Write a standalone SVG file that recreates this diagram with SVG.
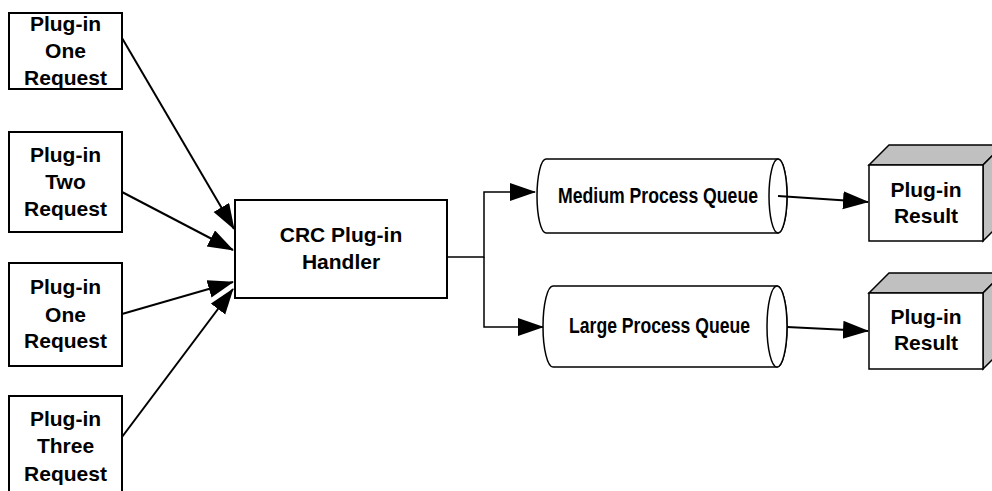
<svg xmlns="http://www.w3.org/2000/svg" width="992" height="491" viewBox="0 0 992 491">
<style>
.box{fill:#fff;stroke:#000;stroke-width:2}
.q{fill:#fff;stroke:#000;stroke-width:1.5}
.side{fill:#c0c0c0;stroke:#000;stroke-width:1.5}
.t{font-family:"Liberation Sans",Arial,sans-serif;font-weight:bold;font-size:21px;text-anchor:middle;fill:#000}
.qt{font-family:"Liberation Sans",Arial,sans-serif;font-weight:bold;font-size:22px;text-anchor:middle;fill:#000}
.c{fill:none;stroke:#000;stroke-width:2}
.c2{fill:none;stroke:#000;stroke-width:1.5}
</style>
<defs>
<marker id="ah" markerUnits="userSpaceOnUse" markerWidth="26" markerHeight="20" refX="25" refY="9" orient="auto">
<path d="M0,0 L26,9 L0,18 Z" fill="#000"/>
</marker>
</defs>
<rect width="992" height="491" fill="#fff"/>
<g id="req1">
<rect class="box" x="9" y="13" width="113" height="76"/>
<text class="t" x="65.5" y="31">Plug-in</text>
<text class="t" x="65.5" y="58">One</text>
<text class="t" x="65.5" y="85">Request</text>
</g>
<g id="req2">
<rect class="box" x="9" y="132" width="113" height="100"/>
<text class="t" x="65.5" y="162">Plug-in</text>
<text class="t" x="65.5" y="189">Two</text>
<text class="t" x="65.5" y="216">Request</text>
</g>
<g id="req3">
<rect class="box" x="9" y="263" width="113" height="103"/>
<text class="t" x="65.5" y="294">Plug-in</text>
<text class="t" x="65.5" y="322">One</text>
<text class="t" x="65.5" y="348">Request</text>
</g>
<g id="req4">
<rect class="box" x="9" y="396" width="113" height="103"/>
<text class="t" x="65.5" y="426">Plug-in</text>
<text class="t" x="65.5" y="453">Three</text>
<text class="t" x="65.5" y="481">Request</text>
</g>
<g id="handler">
<rect class="box" x="235" y="200" width="212" height="98"/>
<text class="t" x="341" y="242">CRC Plug-in</text>
<text class="t" x="341" y="269">Handler</text>
</g>
<g id="mediumQueue">
<path class="q" d="M546,159 L778,159 A9,37 0 0 1 778,233 L546,233 A9,37 0 0 1 546,159 Z"/>
<ellipse class="q" cx="778" cy="196" rx="9" ry="37"/>
<text class="qt" x="658" y="203" textLength="200" lengthAdjust="spacingAndGlyphs">Medium Process Queue</text>
</g>
<g id="largeQueue">
<path class="q" d="M553,286 L777,286 A10,40.5 0 0 1 777,367 L553,367 A10,40.5 0 0 1 553,286 Z"/>
<ellipse class="q" cx="777" cy="326.5" rx="10" ry="40.5"/>
<text class="qt" x="659.5" y="333" textLength="181" lengthAdjust="spacingAndGlyphs">Large Process Queue</text>
</g>
<g id="result1">
<polygon class="side" points="869,165 889,145 1003,145 983,165"/>
<polygon class="side" points="983,165 1003,145 1003,221 983,241"/>
<rect class="q" x="869" y="165" width="114" height="76"/>
<text class="t" x="926" y="197">Plug-in</text>
<text class="t" x="926" y="223">Result</text>
</g>
<g id="result2">
<polygon class="side" points="869,293 889,273 1003,273 983,293"/>
<polygon class="side" points="983,293 1003,273 1003,349 983,369"/>
<rect class="q" x="869" y="293" width="114" height="76"/>
<text class="t" x="926" y="324">Plug-in</text>
<text class="t" x="926" y="350">Result</text>
</g>
<g id="connectors">
<path class="c" d="M122,38 L234,229" marker-end="url(#ah)"/>
<path class="c" d="M122,192 L233,250" marker-end="url(#ah)"/>
<path class="c" d="M122,314 L233,282" marker-end="url(#ah)"/>
<path class="c" d="M122,437 L233,289" marker-end="url(#ah)"/>
<path class="c2" d="M447,257 H484 V192 H535" marker-end="url(#ah)"/>
<path class="c2" d="M484,257 V327 H543" marker-end="url(#ah)"/>
<path class="c" d="M778,196 L868,202" marker-end="url(#ah)"/>
<path class="c" d="M787,327 L868,331" marker-end="url(#ah)"/>
</g>
</svg>
